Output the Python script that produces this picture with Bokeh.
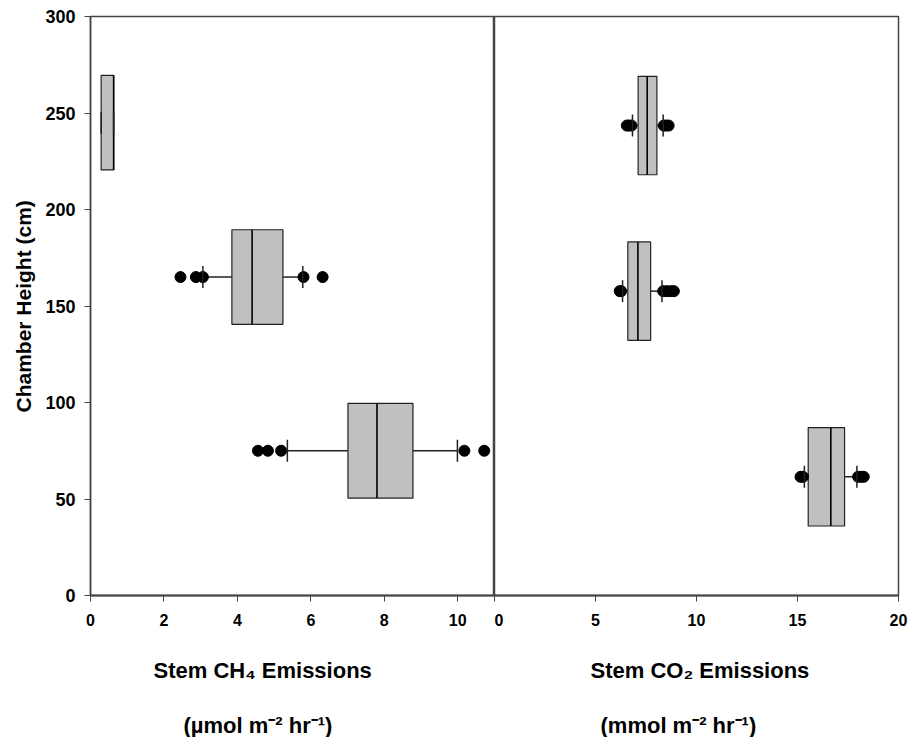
import math
from bokeh.plotting import figure
from bokeh.layouts import row
from bokeh.models import Range1d, FixedTicker, Title
from bokeh.embed import file_html
from bokeh.resources import INLINE

# ---------------- data ----------------
# Stem CH4 emissions (umol m-2 hr-1), one box per chamber height
ch4_height = [245, 165, 75]
ch4_q1 = [0.29, 3.85, 7.01]
ch4_median = [0.63, 4.40, 7.80]
ch4_q3 = [0.63, 5.24, 8.78]
ch4_whisker_low = [0.29, 3.06, 5.36]
ch4_whisker_high = [0.63, 5.78, 9.99]
ch4_outlier_height = [165, 165, 165, 165, 165, 75, 75, 75, 75, 75]
ch4_outlier_value = [2.45, 2.87, 3.06, 5.80, 6.32, 4.56, 4.83, 5.19, 10.18, 10.72]

# Stem CO2 emissions (mmol m-2 hr-1)
co2_height = [243.5, 157.7, 61.5]
co2_q1 = [7.11, 6.60, 15.53]
co2_median = [7.56, 7.10, 16.65]
co2_q3 = [8.04, 7.73, 17.33]
co2_whisker_low = [6.83, 6.34, 15.34]
co2_whisker_high = [8.35, 8.29, 17.94]
co2_outlier_height = [243.5] * 6 + [157.7] * 6 + [61.5] * 5
co2_outlier_value = [6.55, 6.65, 6.78, 8.38, 8.50, 8.62,
                     6.20, 6.27, 8.35, 8.55, 8.75, 8.88,
                     15.15, 15.27, 18.00, 18.15, 18.28]

y_ticks = [0, 50, 100, 150, 200, 250, 300]
ch4_ticks = [0, 2, 4, 6, 8, 10]
co2_ticks = [0, 5, 10, 15, 20]

# ---------------- styles ----------------
FONT = "Liberation Sans"
BOX_FILL = "#c0c0c0"
LINE = "#222222"
FRAME = "#444444"

y_range = Range1d(0, 300)


def make_panel(width, x_max, ticks, border_left, border_right):
    p = figure(width=width, height=737, x_range=Range1d(0, x_max), y_range=y_range,
               output_backend="svg", toolbar_location=None, tools="",
               min_border_left=border_left, min_border_right=border_right,
               min_border_top=16, min_border_bottom=142)
    p.xgrid.visible = False
    p.ygrid.visible = False
    p.background_fill_color = "white"
    p.border_fill_color = "white"
    p.outline_line_color = FRAME
    p.outline_line_width = 1.5
    p.xaxis.ticker = FixedTicker(ticks=ticks)
    p.xaxis.major_tick_out = 6
    p.xaxis.major_tick_in = 0
    p.xaxis.minor_tick_line_color = None
    p.xaxis.axis_line_color = FRAME
    p.xaxis.axis_line_width = 2
    p.xaxis.major_tick_line_color = FRAME
    p.xaxis.major_label_text_font = FONT
    p.xaxis.major_label_text_font_style = "bold"
    p.xaxis.major_label_text_font_size = "16px"
    p.xaxis.major_label_text_color = "black"
    p.xaxis.major_label_standoff = 12
    return p


def add_bottom_titles(p, line1, off1, line2, off2):
    p.add_layout(Title(text=line1, align="left", offset=off1, standoff=55,
                       text_font=FONT, text_font_style="bold",
                       text_font_size="22px", text_color="black"), "below")
    p.add_layout(Title(text=line2, align="left", offset=off2, standoff=0,
                       text_font=FONT, text_font_style="bold",
                       text_font_size="22px", text_color="black"), "below")


def draw_boxes(p, h, q1, med, q3, wlo, whi, oh, ov, box_h):
    p.segment(x0=wlo, y0=h, x1=q1, y1=h, line_color=LINE, line_width=1.5)
    p.segment(x0=q3, y0=h, x1=whi, y1=h, line_color=LINE, line_width=1.5)
    p.hbar(y=h, left=q1, right=q3, height=box_h, fill_color=BOX_FILL,
           line_color=LINE, line_width=1.2)
    p.segment(x0=med, y0=[v - box_h / 2 for v in h], x1=med,
              y1=[v + box_h / 2 for v in h], line_color="black", line_width=1.6)
    p.scatter(x=ov, y=oh, marker="circle", size=11, fill_color="black",
              line_color="black")
    p.scatter(x=wlo + whi, y=h + h, marker="dash", angle=math.pi / 2, size=22,
              line_color=LINE, line_width=1.5)


# ---------------- left panel (CH4) ----------------
p1 = make_panel(494, 11, ch4_ticks, 90, 0)
p1.yaxis.ticker = FixedTicker(ticks=y_ticks)
p1.yaxis.major_tick_out = 6
p1.yaxis.major_tick_in = 0
p1.yaxis.minor_tick_line_color = None
p1.yaxis.axis_line_color = FRAME
p1.yaxis.axis_line_width = 1.5
p1.yaxis.major_tick_line_color = FRAME
p1.yaxis.major_label_text_font = FONT
p1.yaxis.major_label_text_font_style = "bold"
p1.yaxis.major_label_text_font_size = "18px"
p1.yaxis.major_label_text_color = "black"
p1.yaxis.major_label_standoff = 9
draw_boxes(p1, ch4_height, ch4_q1, ch4_median, ch4_q3, ch4_whisker_low,
           ch4_whisker_high, ch4_outlier_height, ch4_outlier_value, 49)

p1.add_layout(Title(text="Chamber Height (cm)", align="left", offset=183,
                    standoff=15, text_font=FONT, text_font_style="bold",
                    text_font_size="21px", text_color="black"), "left")
add_bottom_titles(p1, "Stem CH\u2084 Emissions", 63,
                  "(\u00b5mol m\u207b\u00b2 hr\u207b\u00b9)", 93)

# ---------------- right panel (CO2) ----------------
p2 = make_panel(420, 20, co2_ticks, 0, 16)
p2.yaxis.visible = False
draw_boxes(p2, co2_height, co2_q1, co2_median, co2_q3, co2_whisker_low,
           co2_whisker_high, co2_outlier_height, co2_outlier_value, 51)
add_bottom_titles(p2, "Stem CO\u2082 Emissions", 96,
                  "(mmol m\u207b\u00b2 hr\u207b\u00b9)", 106)

layout = row(p1, p2)
open("out.html", "w").write(file_html(layout, INLINE))
